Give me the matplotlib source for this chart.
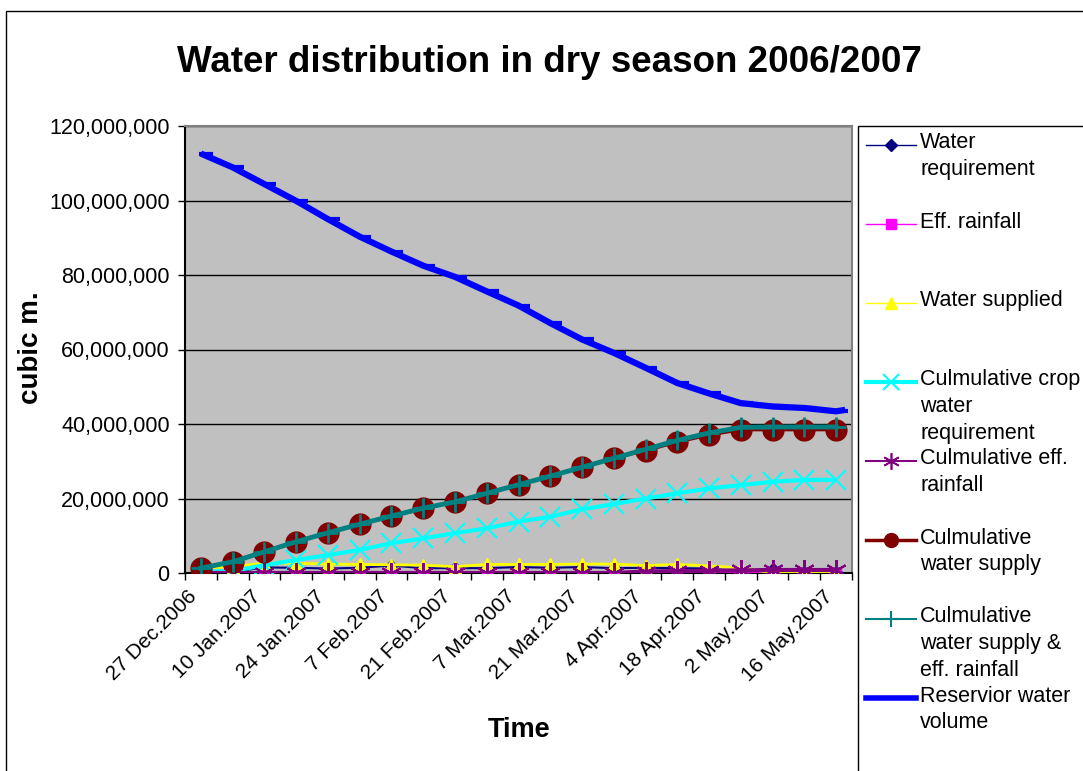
import matplotlib
matplotlib.use('Agg')
import matplotlib.pyplot as plt
from matplotlib.lines import Line2D
from matplotlib.patches import Rectangle
from matplotlib.ticker import FuncFormatter, MultipleLocator
import numpy as np

plt.rcParams['font.family'] = ['Liberation Sans', 'DejaVu Sans']

# weekly categories
weeks = ['27 Dec.2006', '3 Jan.2007', '10 Jan.2007', '17 Jan.2007', '24 Jan.2007',
         '31 Jan.2007', '7 Feb.2007', '14 Feb.2007', '21 Feb.2007', '28 Feb.2007',
         '7 Mar.2007', '14 Mar.2007', '21 Mar.2007', '28 Mar.2007', '4 Apr.2007',
         '11 Apr.2007', '18 Apr.2007', '25 Apr.2007', '2 May.2007', '9 May.2007',
         '16 May.2007']

# values in million cubic metres
water_req = [0.5, 0.3, 1.5, 1.4, 1.2, 1.4, 2.0, 1.3, 1.3, 1.3, 1.6,
             1.4, 1.6, 1.3, 1.4, 1.3, 1.2, 0.4, 1.2, 0.4, 0.2]
eff_rain = [0, 0, 0, 0, 0, 0, 0, 0, 0, 0, 0,
            0, 0, 0, 0.4, 0.1, 0.1, 0.1, 0.1, 0, 0]
water_sup = [1.3, 1.7, 2.7, 2.6, 2.4, 2.3, 2.2, 2.1, 1.7, 2.3, 2.3,
             2.3, 2.4, 2.4, 2.0, 2.3, 1.9, 1.4, 0, 0, 0]
cum_crop_req = [0.4, 0.5, 2.1, 3.5, 4.8, 6.2, 8.0, 9.3, 10.7, 12.0, 13.8,
                15.1, 17.1, 18.5, 20.0, 21.4, 22.7, 23.6, 24.5, 25.0, 25.0]
cum_eff_rain = [0, 0, 0, 0, 0, 0, 0, 0, 0, 0, 0,
                0, 0, 0, 0.4, 0.5, 0.6, 0.7, 0.8, 0.8, 0.8]
cum_sup = [1.3, 3.0, 5.7, 8.4, 10.8, 13.1, 15.3, 17.4, 19.1, 21.4, 23.7,
           26.0, 28.4, 30.8, 32.8, 35.1, 37.0, 38.4, 38.4, 38.4, 38.4]
cum_sup_rain = [1.3, 3.0, 5.7, 8.4, 10.8, 13.1, 15.3, 17.4, 19.1, 21.4, 23.7,
                26.0, 28.4, 30.8, 33.2, 35.6, 37.6, 39.1, 39.2, 39.2, 39.2]
reservoir_days = [0, 7, 14, 21, 28, 35, 42, 49, 56, 63, 70,
                  77, 84, 91, 98, 105, 112, 119, 126, 133, 140, 142]
reservoir = [112.6, 108.9, 104.4, 99.9, 95.0, 90.3, 86.3, 82.5, 79.5, 75.6, 71.8,
             67.1, 62.7, 59.1, 55.1, 51.0, 48.2, 45.6, 44.7, 44.3, 43.4, 43.8]

W, H = 1083, 771


def fx(px):
    return px / W


def fy(py):
    return 1 - py / H


fig = plt.figure(figsize=(W / 100, H / 100), dpi=100)
ax = fig.add_axes([fx(185), fy(573), fx(852) - fx(185), fy(126) - fy(573)])
ax.set_facecolor('#C0C0C0')

x = np.arange(len(weeks))
xr = np.array(reservoir_days) / 7.0
asterisk = (6, 2, 0)

ax.plot(x, water_req, color='#000080', lw=1.5, marker='D', ms=6, zorder=3)
ax.plot(x, eff_rain, color='#FF00FF', lw=1.5, marker='s', ms=7, zorder=4)
ax.plot(x, water_sup, color='#FFFF00', lw=2, marker='^', ms=9, zorder=5)
ax.plot(x, cum_crop_req, color='#00FFFF', lw=3, marker='x', ms=14, mew=1.5, zorder=6)
ax.plot(x, cum_eff_rain, color='#800080', lw=3, marker=asterisk, ms=15, mew=1.5, zorder=7)
ax.plot(x, cum_sup, color='#800000', lw=2, marker='o', ms=15, zorder=8)
ax.plot(x, cum_sup_rain, color='#008080', lw=3.5, marker='+', ms=14, mew=2, zorder=9)
ax.plot(xr[:-1] + 0.15, reservoir[:-1], color='#0000FF', lw=0, marker='_', ms=10, mew=3, zorder=10)
ax.plot(xr, reservoir, color='#0000FF', lw=4.5, zorder=10, solid_capstyle='butt')

ax.set_xlim(-0.5, len(weeks) - 0.5)
ax.set_ylim(0, 120)
ax.yaxis.set_major_locator(MultipleLocator(20))
ax.yaxis.set_major_formatter(FuncFormatter(lambda v, p: '{:,.0f}'.format(v * 1e6)))
ax.yaxis.grid(True, color='black', lw=1)
ax.set_axisbelow(True)

ax.set_xticks(x[::2])
ax.set_xticklabels(weeks[::2], rotation=45, ha='right')
ax.set_xticks(np.arange(-0.5, len(weeks), 1), minor=True)
ax.tick_params(axis='x', which='major', length=0, pad=10, labelsize=15)
ax.tick_params(axis='x', which='minor', length=5, width=1, color='black')
ax.tick_params(axis='y', length=5, width=1, pad=6, labelsize=15.5)

for s in ['left', 'bottom']:
    ax.spines[s].set_color('black')
    ax.spines[s].set_linewidth(1.5)
for s in ['top', 'right']:
    ax.spines[s].set_color('#808080')
    ax.spines[s].set_linewidth(1.5)

fig.text(fx(549), fy(62), 'Water distribution in dry season 2006/2007',
         ha='center', va='center', fontsize=26.5, fontweight='bold')
fig.text(fx(31), fy(348), 'cubic m.', rotation=90, ha='center', va='center',
         fontsize=20, fontweight='bold')
fig.text(fx(519), fy(730), 'Time', ha='center', va='center',
         fontsize=19.5, fontweight='bold')

# outer chart border and legend box
fig.add_artist(Rectangle((fx(6), -0.1), 1.2, fy(11) + 0.1, transform=fig.transFigure,
                         fill=False, edgecolor='black', lw=1))
fig.add_artist(Rectangle((fx(858), -0.1), 0.5, fy(126) + 0.1, transform=fig.transFigure,
                         fill=False, edgecolor='black', lw=1))

legend_items = [
    ('Water\nrequirement', '#000080', 1, 'D', 6, 1),
    ('Eff. rainfall', '#FF00FF', 1, 's', 7, 1),
    ('Water supplied', '#FFFF00', 1, '^', 9, 1),
    ('Culmulative crop\nwater\nrequirement', '#00FFFF', 3, 'x', 12, 1.5),
    ('Culmulative eff.\nrainfall', '#800080', 1.5, asterisk, 12, 1.2),
    ('Culmulative\nwater supply', '#800000', 2.5, 'o', 10, 1),
    ('Culmulative\nwater supply &\neff. rainfall', '#008080', 1.5, '+', 12, 1.5),
    ('Reservior water\nvolume', '#0000FF', 4, 'None', 0, 0),
]

for k, (label, c, lw, m, ms, mew) in enumerate(legend_items):
    yy = 145 + 79 * k
    fig.add_artist(Line2D([fx(866), fx(916)], [fy(yy), fy(yy)], color=c, lw=lw,
                          transform=fig.transFigure))
    fig.add_artist(Line2D([fx(891)], [fy(yy)], color=c, marker=m, ms=ms, mew=mew,
                          lw=0, transform=fig.transFigure))
    for j, line in enumerate(label.split('\n')):
        fig.text(fx(920), fy(yy - 2 + 26.5 * j), line, ha='left', va='center', fontsize=15.5)

fig.savefig('out.png', dpi=100)
